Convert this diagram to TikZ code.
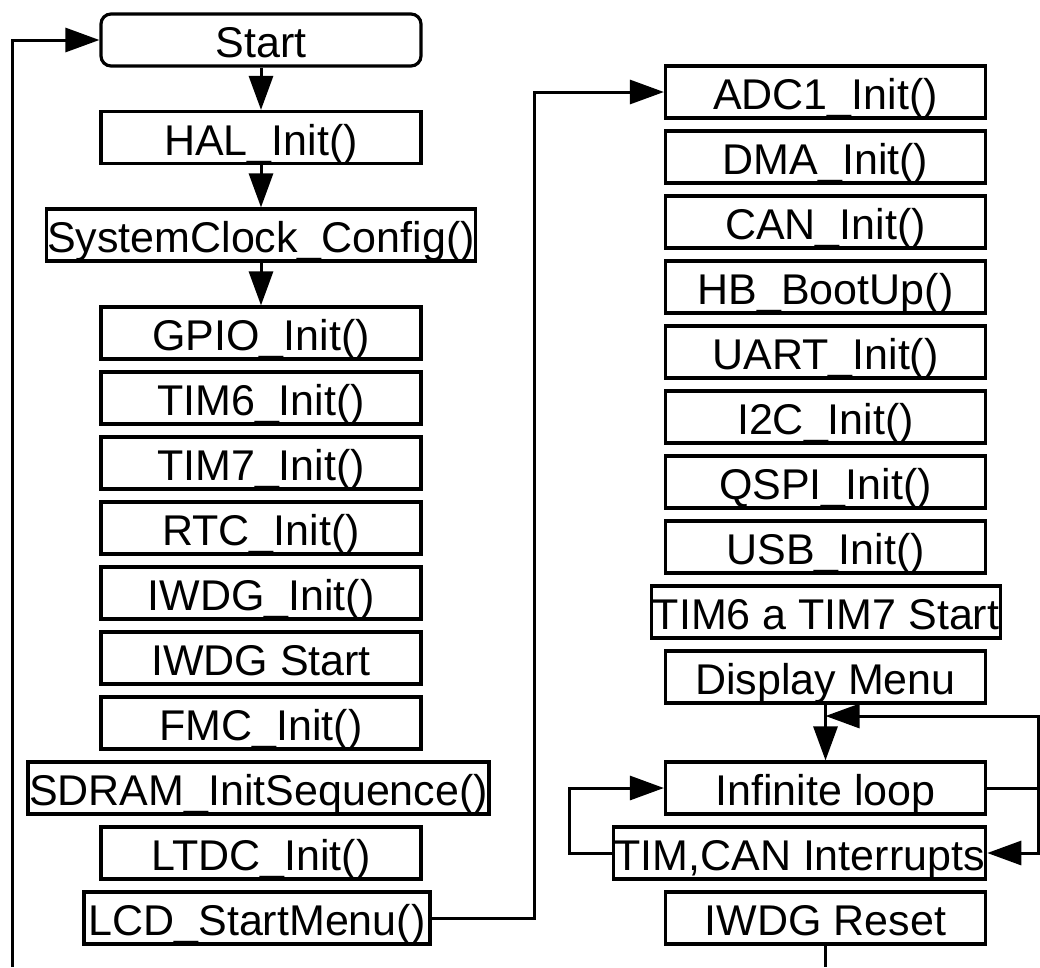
\documentclass[tikz,border=0pt]{standalone}
\usepackage{fontspec}
\setmainfont{Liberation Sans}
\usetikzlibrary{arrows.meta}
\begin{document}
\begin{tikzpicture}[x=1pt,y=-1pt,
  box/.style={draw,line width=3.2pt,minimum width=320pt,minimum height=52pt,inner xsep=1pt,inner ysep=0pt,
    text height=40pt,text depth=5pt,font=\fontsize{43}{43}\selectfont},
  conn/.style={line width=3pt},
  >={Triangle[length=34pt,width=24pt]}]
\useasboundingbox (0,0) rectangle (1040,967);
% left column
\node[box,rounded corners=10pt] (start) at (261,40) {Start};
\node[box] (hal) at (261,137.5) {HAL\_Init()};
\node[box,minimum width=426pt] (sys) at (261,235) {SystemClock\_Config()};
\node[box] (gpio) at (261,333) {GPIO\_Init()};
\node[box] (tim6) at (261,398) {TIM6\_Init()};
\node[box] (tim7) at (261,463) {TIM7\_Init()};
\node[box] (rtc) at (261,528) {RTC\_Init()};
\node[box] (iwdgi) at (261,593) {IWDG\_Init()};
\node[box] (iwdgs) at (261,658) {IWDG Start};
\node[box] (fmc) at (261,723) {FMC\_Init()};
\node[box,minimum width=461pt] (sdram) at (258.5,788) {SDRAM\_InitSequence()};
\node[box] (ltdc) at (261,853) {LTDC\_Init()};
\node[box,minimum width=346pt] (lcd) at (257,918) {LCD\_StartMenu()};
% right column
\node[box] (adc) at (825.5,92) {ADC1\_Init()};
\node[box] (dma) at (825.5,157) {DMA\_Init()};
\node[box] (can) at (825.5,222) {CAN\_Init()};
\node[box] (hb) at (825.5,287) {HB\_BootUp()};
\node[box] (uart) at (825.5,352) {UART\_Init()};
\node[box] (i2c) at (825.5,417) {I2C\_Init()};
\node[box] (qspi) at (825.5,482) {QSPI\_Init()};
\node[box] (usb) at (825.5,547) {USB\_Init()};
\node[box,minimum width=348pt] (ts) at (826,612) {TIM6 a TIM7 Start};
\node[box] (disp) at (825.5,677) {Display Menu};
\node[box] (inf) at (825.5,788) {Infinite loop};
\node[box,minimum width=371pt] (irq) at (799.5,853) {TIM,CAN Interrupts};
\node[box] (rst) at (825.5,918) {IWDG Reset};
% helper coordinates
\coordinate (lb) at (12,967);
\coordinate (jx) at (534,500);
\coordinate (rx) at (1038,500);
\coordinate (lx) at (569,500);
\coordinate (fb) at (825.5,716);
\coordinate (rb) at (825.5,967);
% connectors
\draw[conn,->] (start) -- (hal);
\draw[conn,->] (hal) -- (sys);
\draw[conn,->] (sys) -- (gpio);
\draw[conn,->] (lb) |- (start.west);
\draw[conn,->] (lcd.east) -- (lcd.east -| jx) |- (adc.west);
\draw[conn,->] (disp) -- (inf);
\draw[conn] (inf.east) -- (inf.east -| rx);
\draw[conn,->] (inf.east -| rx) |- (fb);
\draw[conn,->] (inf.east -| rx) |- (irq.east);
\draw[conn,->] (irq.west) -- (irq.west -| lx) |- (inf.west);
\draw[conn] (rst) -- (rb);
\end{tikzpicture}
\end{document}
